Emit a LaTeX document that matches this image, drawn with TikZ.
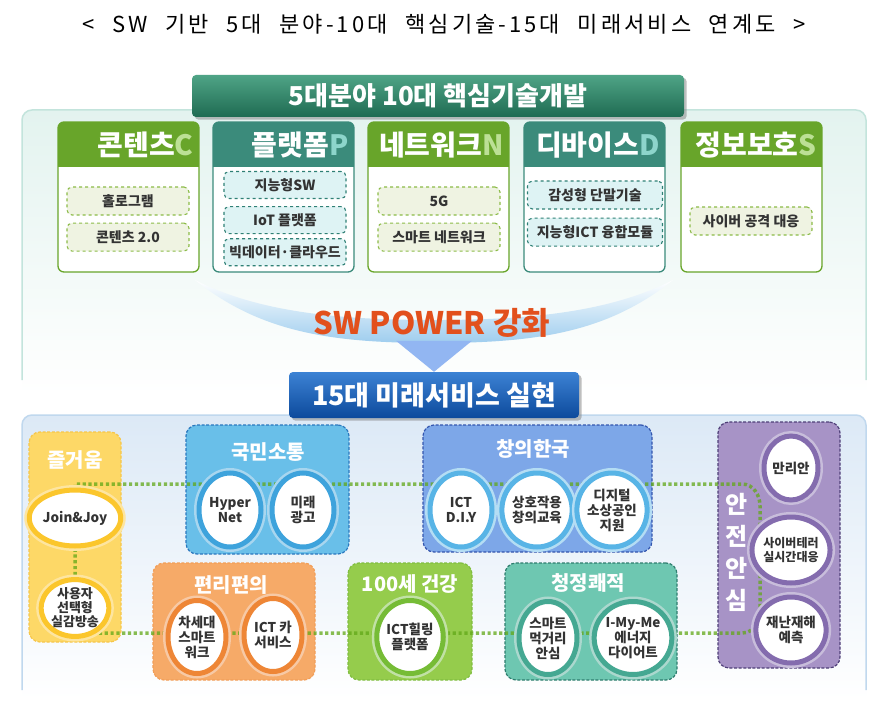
\documentclass[tikz,border=0pt]{standalone}
\usepackage{fontspec}
\setmainfont{Noto Sans CJK KR}
\newfontfamily\headingfont[LetterSpace=14, WordSpace=2.2]{Noto Sans CJK KR}
\usetikzlibrary{positioning}
\usetikzlibrary{calc}
\usetikzlibrary{shapes.geometric}
\usetikzlibrary{shadows}

% Colours of the two upper field kinds
\definecolor{fieldgreen}{HTML}{68A52A}
\definecolor{fieldteal}{HTML}{3B8B7B}
\definecolor{lettergreen}{HTML}{BCE095}
\definecolor{letterteal}{HTML}{8DD5CB}
\definecolor{itemgreen}{HTML}{EFF3E2}
\definecolor{itemteal}{HTML}{DEF3F4}
\definecolor{itemgreenline}{HTML}{8CBB48}
\definecolor{itemtealline}{HTML}{2F8075}
\definecolor{bannergreentop}{HTML}{4FA486}
\definecolor{bannergreen}{HTML}{1F6B52}
\definecolor{bannerbluetop}{HTML}{3C82D4}
\definecolor{bannerblue}{HTML}{0D4A9C}
\definecolor{powerorange}{HTML}{E2501C}
\definecolor{swooshblue}{HTML}{9ECDEE}
\definecolor{textgrey}{HTML}{333333}
\definecolor{dotgreen}{HTML}{62A818}
\definecolor{upperpanel}{HTML}{E3F3EF}
\definecolor{upperline}{HTML}{C3E4DC}
\definecolor{lowerpanel}{HTML}{DCE9F6}
\definecolor{lowerline}{HTML}{C0D8EE}
% Colours of the service groups
\definecolor{joyfill}{HTML}{FDD867}
\definecolor{joyline}{HTML}{F6C64A}
\definecolor{joyring}{HTML}{FBC62C}
\definecolor{talkfill}{HTML}{69BFE9}
\definecolor{talkline}{HTML}{2A78BE}
\definecolor{talkring}{HTML}{3EA3DC}
\definecolor{koreafill}{HTML}{7DA7E8}
\definecolor{korealine}{HTML}{3456AE}
\definecolor{korearing}{HTML}{58B4E6}
\definecolor{easyfill}{HTML}{F6AA68}
\definecolor{easyline}{HTML}{F29E58}
\definecolor{easyring}{HTML}{EE8636}
\definecolor{healthfill}{HTML}{95CC4C}
\definecolor{healthline}{HTML}{80BE40}
\definecolor{healthring}{HTML}{76BC36}
\definecolor{cleanfill}{HTML}{6EC7B1}
\definecolor{cleanline}{HTML}{2E7D6E}
\definecolor{cleanring}{HTML}{45A892}
\definecolor{safefill}{HTML}{A793C6}
\definecolor{safeline}{HTML}{4F3F78}
\definecolor{safering}{HTML}{846CAE}

\tikzset{
    % Frame round one of the five fields
    field frame/.style={draw=#1, line width=1.3pt, rounded corners=6pt},
%
    % A technology entry inside a field
    tech item/.style={draw, dashed, line width=1.1pt, rounded corners=5pt,
        minimum width=122pt, minimum height=28pt, inner sep=0pt,
        font=\bfseries\fontsize{14}{16}\selectfont, text=textgrey},
    tech green/.style={tech item, draw=itemgreenline, fill=itemgreen},
    tech teal/.style={tech item, draw=itemtealline, fill=itemteal},
%
    % The two ribbon headings
    banner/.style={rounded corners=4pt, text=white, drop shadow,
        font=\bfseries\fontsize{26}{30}\selectfont},
%
    % A service group: its fill and its dashed border
    service group/.style 2 args={draw=#2, fill=#1, line width=1.2pt,
        dash pattern=on 3pt off 1.6pt, rounded corners=11pt, inner sep=0pt},
%
    % A single future service, a white disc in a glowing ring
    service/.style={ellipse, draw=#1, fill=white, line width=5pt,
        preaction={draw=#1!45, line width=10pt},
        minimum width=62pt, minimum height=74pt, inner sep=0pt, align=center,
        text=textgrey, font=\bfseries\fontsize{13.5}{15}\selectfont},
%
    % Heading of a service group
    group title/.style={text=white, font=\bfseries\fontsize{20}{22}\selectfont},
%
    % The dotted line that ties all services together
    service link/.style={draw=dotgreen, line width=3.5pt,
        dash pattern=on 3.2pt off 2.6pt, opacity=.75}}

\begin{document}
\begin{tikzpicture}[x=1pt, y=-1pt]
\useasboundingbox (0,0) rectangle (886,706);
\fill[white] (0,0) rectangle (886,706);

% Heading of the whole chart
\node[font=\headingfont\fontsize{22}{25}\selectfont]
    (heading) at (444,24) {< SW 기반 5대 분야-10대 핵심기술-15대 미래서비스 연계도 >};

% Upper panel with the ten core technologies
\path[top color=upperpanel, bottom color=white, rounded corners=10pt]
    (22,395) -- (22,110) -- (866,110) -- (866,395);
\draw[upperline, line width=1.5pt, rounded corners=10pt]
    (22,380) -- (22,110) -- (866,110) -- (866,380);

% Lower panel with the fifteen services
\path[top color=lowerpanel, bottom color=white, rounded corners=10pt]
    (22,700) -- (22,415) -- (866,415) -- (866,700);
\draw[lowerline, line width=1.5pt, rounded corners=10pt]
    (22,690) -- (22,415) -- (866,415) -- (866,690);

% The five fields of core technology
\foreach \fx/\fc/\fl/\fname/\fword/\fkey in {
        58/fieldgreen/lettergreen/contents/콘텐츠/C,
        213/fieldteal/letterteal/platform/플랫폼/P,
        368/fieldgreen/lettergreen/network/네트워크/N,
        524/fieldteal/letterteal/device/디바이스/D,
        681/fieldgreen/lettergreen/security/정보보호/S}
{
    \fill[white, rounded corners=6pt] (\fx,122) rectangle ++(141,150);
    \begin{scope}
        \clip[rounded corners=6pt] (\fx,122) rectangle ++(141,150);
        \fill[\fc] (\fx,122) rectangle ++(141,45);
    \end{scope}
    \draw[field frame=\fc] (\fx,122) rectangle ++(141,150);
    \node[anchor=east, font=\bfseries\fontsize{28}{30}\selectfont]
        (\fname) at (\fx+139,145) {\textcolor{white}{\fword}\textcolor{\fl}{\fkey}};
}

% Technologies of each field
\node[tech green] (hologram) at (128,201) {홀로그램};
\node[tech green, below=7pt of hologram] (contents two) {콘텐츠 2.0};
\node[tech teal, minimum height=27pt] (smart sw) at (285,185) {지능형SW};
\node[tech teal, minimum height=27pt, below=7pt of smart sw] (iot platform) {IoT 플랫폼};
\node[tech teal, minimum height=27pt, below=4pt of iot platform] (big data) {빅데이터·클라우드};
\node[tech green] (five g) at (439,201) {5G};
\node[tech green, below=7pt of five g] (smart network) {스마트 네트워크};
\node[tech teal, minimum width=135pt] (emotion device) at (595,195) {감성형 단말기술};
\node[tech teal, minimum width=135pt, below=8pt of emotion device] (ict module) {지능형ICT 융합모듈};
\node[tech green] (cyber defence) at (751,221) {사이버 공격 대응};

% Swoosh and arrow from the technologies down to the services
\node[banner, top color=bannerbluetop, bottom color=bannerblue,
    minimum width=290pt, minimum height=46pt, font=\bfseries\fontsize{27}{30}\selectfont]
    (service banner) at (434,395) {15대 미래서비스 실현};
\shade[top color=white, bottom color=swooshblue]
    (195,280) .. controls (260,332) and (330,343) .. (434,343)
    .. controls (538,343) and (608,332) .. (673,280)
    .. controls (610,312) and (530,320) .. (434,320)
    .. controls (338,320) and (258,312) .. cycle;
\fill[swooshblue!85!blue!90!white]
    ($(service banner.north)+(-38,-31)$) -- ($(service banner.north)+(38,-31)$)
    -- (service banner.north) -- cycle;
\node[font=\bfseries\fontsize{31}{34}\selectfont, text=powerorange]
    (sw power) at (432,323) {SW POWER 강화};

% Top ribbon heading
\node[banner, top color=bannergreentop, bottom color=bannergreen,
    minimum width=492pt, minimum height=42pt]
    (field banner) at (438,96) {5대분야 10대 핵심기술개발};

% Service groups
\node[service group={joyfill}{joyline}, minimum width=92pt, minimum height=210pt]
    (joy group) at (75,537) {};
\node[service group={talkfill}{talkline}, minimum width=163pt, minimum height=129pt]
    (talk group) at (267.5,489.5) {};
\node[service group={koreafill}{korealine}, minimum width=229pt, minimum height=127pt]
    (korea group) at (537.5,488.5) {};
\node[service group={easyfill}{easyline}, minimum width=162pt, minimum height=117pt]
    (easy group) at (234,621.5) {};
\node[service group={healthfill}{healthline}, minimum width=124pt, minimum height=117pt]
    (health group) at (410,621.5) {};
\node[service group={cleanfill}{cleanline}, minimum width=172pt, minimum height=117pt]
    (clean group) at (591,621.5) {};
\node[service group={safefill}{safeline}, minimum width=122pt, minimum height=246pt]
    (safe group) at (779,545) {};

% The dotted link running round all the services
\coordinate (link nw) at (75,484);
\coordinate (link ne) at (742,484);
\coordinate (link se) at (742,633);
\coordinate (link sw) at (75,633);
\draw[service link] (link sw) -- (link nw) -- (link ne)
    to[out=0, in=90] ++(18,22) -- ++(0,105) to[out=-90, in=0] (link se) -- cycle;

% Group headings
\node[group title] (joy title) at (75,460) {즐거움};
\node[group title] (talk title) at (268,452) {국민소통};
\node[group title] (korea title) at (533,449) {창의한국};
\node[group title] (easy title) at (231,585) {편리편의};
\node[group title] (health title) at (410,584) {100세 건강};
\node[group title] (clean title) at (588,583) {청정쾌적};
\node[group title, font=\bfseries\fontsize{24}{32}\selectfont, align=center]
    (safe title) at (737,552) {안\\전\\안\\심};

% The fifteen future services
\node[service=joyring, minimum width=54pt, minimum height=56pt]
    (join joy) at (75,518) {Join\&Joy};
\node[service=joyring, minimum width=54pt, minimum height=56pt,
    font=\bfseries\fontsize{13}{14}\selectfont]
    (user choice) at (75,608) {사용자\\선택형\\실감방송};

\node[service=talkring] (hyper net) at (230,510) {Hyper\\Net};
\node[service=talkring] (future ad) at (303,510) {미래\\광고};

\node[service=korearing] (ict diy) at (461,510) {ICT\\D.I.Y};
\node[service=korearing] (interaction edu) at (537,510) {상호작용\\창의교육};
\node[service=korearing] (digital merchant) at (612,510) {디지털\\소상공인\\지원};

\node[service=easyring, minimum width=58pt, minimum height=73pt]
    (smart work) at (197,637) {차세대\\스마트\\워크};
\node[service=easyring, minimum width=58pt, minimum height=73pt]
    (ict car) at (273,635) {ICT 카\\서비스};

\node[service=healthring, minimum width=58pt, minimum height=73pt]
    (healing) at (410,637) {ICT힐링\\플랫폼};

\node[service=cleanring, minimum width=58pt, minimum height=73pt]
    (safe food) at (548,638) {스마트\\먹거리\\안심};
\node[service=cleanring, minimum width=58pt, minimum height=73pt]
    (energy diet) at (633,638) {I-My-Me\\에너지\\다이어트};

\node[service=safering, minimum width=54pt, minimum height=64pt]
    (manrian) at (791,468) {만리안};
\node[service=safering, minimum width=54pt, minimum height=66pt,
    font=\bfseries\fontsize{12}{13.5}\selectfont]
    (cyber terror) at (791,550) {사이버테러\\실시간대응};
\node[service=safering, minimum width=54pt, minimum height=66pt]
    (disaster) at (791,630) {재난재해\\예측};

\end{tikzpicture}
\end{document}
